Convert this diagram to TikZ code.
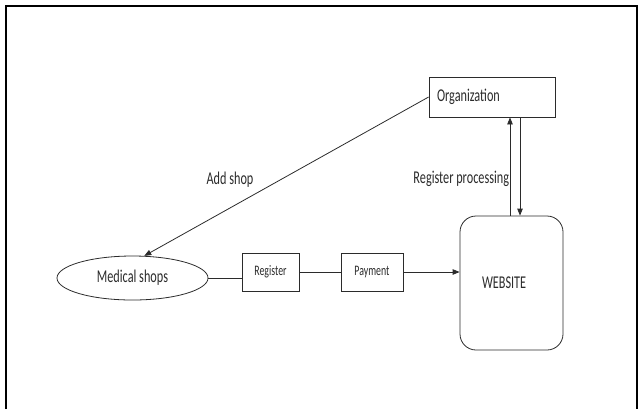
\documentclass[tikz,border=0pt]{standalone}
\usepackage{fontspec}
\newfontfamily\diagfont[FakeStretch=0.68]{Carlito}
\usetikzlibrary{arrows.meta, positioning, shapes.geometric}
\definecolor{inkgrey}{HTML}{2B2B2B}

\begin{document}
\begin{tikzpicture}[x=1bp, y=-1bp,
    bigtxt/.style={font=\diagfont\fontsize{18bp}{20bp}\selectfont, text=inkgrey},
    smalltxt/.style={font=\diagfont\fontsize{14.5bp}{16bp}\selectfont, text=inkgrey},
    box/.style={draw=inkgrey, line width=0.8bp, inner sep=0pt},
    arr/.style={-{Triangle[length=7bp, width=5.5bp]}, draw=inkgrey, line width=0.8bp},
    link/.style={draw=inkgrey, line width=0.8bp},
]
\useasboundingbox (0,0) rectangle (644,409);

% Frame (open at the bottom)
\draw[line width=1.6bp] (6,409) -- (6,6) -- (637,6) -- (637,409);

% Organization
\node[box, bigtxt, minimum width=126bp, minimum height=40bp, inner xsep=8bp,
      text width=110bp, align=left] (org) at (492,97) {Organization};

% Website
\node[box, bigtxt, rounded corners=16bp, minimum width=103bp, minimum height=134bp,
      inner xsep=22bp, text width=59bp, align=left] (web) at (511.5,283) {WEBSITE};

% Medical shops
\node[box, bigtxt, ellipse, minimum width=151bp, minimum height=44bp] (shops) at (132.5,278) {Medical shops};

% Register / Payment
\node[box, smalltxt, minimum width=57bp, minimum height=38bp] (reg) at (270.5,272) {Register};
\node[box, smalltxt, minimum width=62bp, minimum height=38bp] (pay) at (372,272) {Payment};

% Labels
\node[bigtxt] (addlbl) at (230,180) {Add shop};

% Arrows
\draw[arr] (org.west) -- (shops.62);
\draw[link] (shops.east) -- (reg.west |- shops.east);
\draw[link] (reg.east) -- (pay.west);
\draw[arr] (pay.east) -- (pay.east -| web.west);
\draw[arr] ([xshift=-1.5bp]web.north) -- ([xshift=-1.5bp]web.north |- org.south)
    node[bigtxt, pos=0.37, anchor=east, inner sep=0.5bp] (reglbl) {Register processing};
\draw[arr] ([xshift=8.5bp]web.north |- org.south) -- ([xshift=8.5bp]web.north);

\end{tikzpicture}
\end{document}
